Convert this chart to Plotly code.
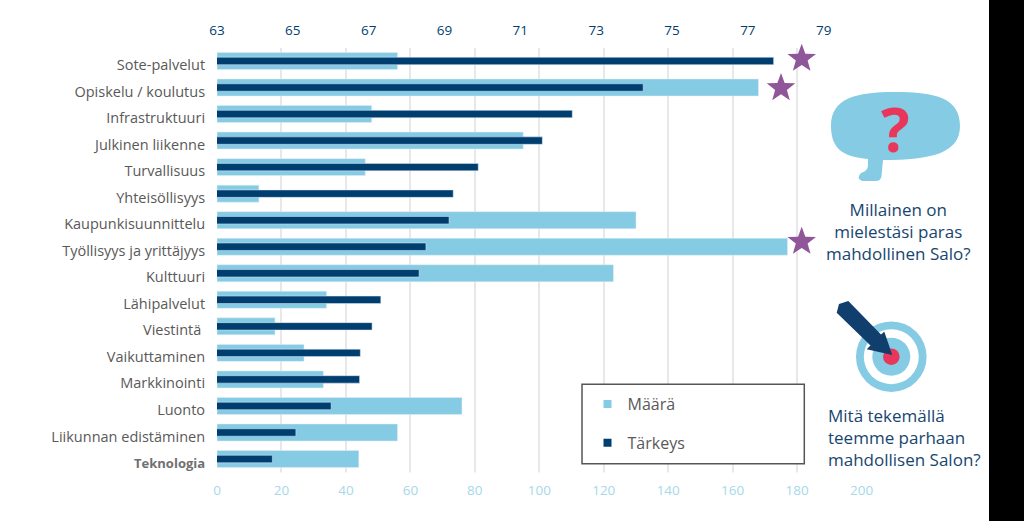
import math
import plotly.graph_objects as go

categories = ["Sote-palvelut", "Opiskelu / koulutus", "Infrastruktuuri", "Julkinen liikenne",
              "Turvallisuus", "Yhteisöllisyys", "Kaupunkisuunnittelu", "Työllisyys ja yrittäjyys",
              "Kulttuuri", "Lähipalvelut", "Viestintä ", "Vaikuttaminen", "Markkinointi",
              "Luonto", "Liikunnan edistäminen", "Teknologia"]
category_labels = categories[:-1] + ['<span style="font-size:13px;color:#707070"><b>Teknologia</b></span>']
maara = [56, 168, 48, 95, 46, 13, 130, 177, 123, 34, 18, 27, 33, 76, 56, 44]
tarkeys = [77.68, 74.24, 72.37, 71.58, 69.89, 69.23, 69.12, 68.51, 68.33,
           67.32, 67.09, 66.78, 66.76, 66.01, 65.08, 64.46]
maara_ticks = [0, 20, 40, 60, 80, 100, 120, 140, 160, 180, 200]
tarkeys_ticks = [63, 65, 67, 69, 71, 73, 75, 77, 79]

W, H = 1024, 521
LIGHT, DARK, NAVY, PINK, PURPLE = "#85cbe3", "#003e70", "#17466f", "#e8375a", "#90569a"
ARROW = "#113f6d"
FONT = "Open Sans"

def px(x):
    return x / W
def py(y):
    return 1 - y / H
def poly(points):
    return "M" + " L".join(f"{px(x):.5f},{py(y):.5f}" for x, y in points) + " Z"
def circle(cx, cy, r, color):
    return dict(type="circle", xref="paper", yref="paper", x0=px(cx - r), x1=px(cx + r),
                y0=py(cy + r), y1=py(cy - r), fillcolor=color, line_width=0, layer="above")
def white(x0, y0, x1, y1):
    return dict(type="rect", xref="paper", yref="paper", x0=px(x0), x1=px(x1), y0=py(y1), y1=py(y0),
                fillcolor="white", line_width=0, layer="above")

fig = go.Figure()
# Legend keys sit on the label axis (y), which is 4 px lower than the bar axis (y2), as in the reference.
for name, color in (("Määrä", LIGHT), ("Tärkeys", DARK)):
    fig.add_scatter(x=[None], y=[None], mode="markers", name=name, legendgroup=name,
                    marker=dict(symbol="square", size=8, color=color))
fig.add_bar(y=categories, x=maara, name="Määrä", orientation="h", width=0.64, yaxis="y2",
            marker_color=LIGHT, legendgroup="Määrä", showlegend=False)
fig.add_bar(y=categories, x=tarkeys, name="Tärkeys", orientation="h", width=0.28, yaxis="y2",
            marker_color=DARK, xaxis="x2", legendgroup="Tärkeys", showlegend=False)

def star(cx, cy):
    pts = []
    for i in range(10):
        r = 15 if i % 2 == 0 else 6.2
        a = math.pi / 5 * i - math.pi / 2
        pts.append((cx + r * math.cos(a), cy + r * math.sin(a) + 1))
    return dict(type="path", xref="paper", yref="paper", path=poly(pts), fillcolor=PURPLE,
                line_width=0, layer="above")

bubble = (f"M{px(831):.5f},{py(126):.5f} "
          f"C{px(831):.5f},{py(98):.5f} {px(856):.5f},{py(92):.5f} {px(895):.5f},{py(92):.5f} "
          f"C{px(936):.5f},{py(92):.5f} {px(960):.5f},{py(98):.5f} {px(960):.5f},{py(126):.5f} "
          f"C{px(960):.5f},{py(153):.5f} {px(932):.5f},{py(160):.5f} {px(883):.5f},{py(160):.5f} "
          f"L{px(881.5):.5f},{py(176):.5f} Q{px(881):.5f},{py(181):.5f} {px(876):.5f},{py(181):.5f} "
          f"L{px(862):.5f},{py(181):.5f} Q{px(856):.5f},{py(178):.5f} {px(861):.5f},{py(173):.5f} "
          f"Q{px(868):.5f},{py(171):.5f} {px(868):.5f},{py(165):.5f} L{px(868):.5f},{py(159):.5f} "
          f"C{px(846):.5f},{py(157):.5f} {px(831):.5f},{py(151):.5f} {px(831):.5f},{py(126):.5f} Z")
arrow = [(836.7, 312.7), (839, 304), (848.3, 301), (881, 334.5), (884.3, 331.7),
         (892.3, 355), (866.7, 349.3), (870.5, 345.5)]

shapes = [
    white(212, 472.5, 870, 478),
    white(812, 192, 985, 268),
    white(815, 402, 985, 466),
    dict(type="path", xref="paper", yref="paper", path=bubble, fillcolor=LIGHT, line_width=0, layer="above"),
    circle(891.3, 356.7, 35.3, LIGHT),
    circle(891.3, 356.7, 27.5, "white"),
    circle(891.3, 356.7, 19, LIGHT),
    circle(891.3, 356.7, 8.3, PINK),
    dict(type="path", xref="paper", yref="paper", path=poly(arrow), fillcolor=ARROW, line_width=0, layer="above"),
    star(801.7, 57.7), star(781, 87), star(801.7, 240.7),
    dict(type="rect", xref="paper", yref="paper", x0=px(582), x1=px(804.3), y0=py(463.7), y1=py(384.3),
         fillcolor="white", line=dict(color="#555555", width=1.5), layer="above"),
    dict(type="rect", xref="paper", yref="paper", x0=px(989), x1=1, y0=0, y1=1,
         fillcolor="black", line_width=0, layer="above"),
]

def text(x, y, s, size=17, color=NAVY, align="center", anchor="center", family=FONT):
    return dict(xref="paper", yref="paper", x=px(x), y=py(y), text=s, showarrow=False, align=align,
                xanchor=anchor, yanchor="middle", font=dict(family=family, size=size, color=color))

annotations = [
    text(895, 129, "<b>?</b>", size=60, color=PINK, family=FONT),
    text(898, 231, "Millainen on<br>mielestäsi paras<br>mahdollinen Salo?"),
    text(825.5, 437, "Mitä tekemällä<br>teemme parhaan<br>mahdollisen Salon?", align="left", anchor="left"),
]

fig.update_layout(
    width=W, height=H, margin=dict(l=0, r=0, t=0, b=0, autoexpand=False), autosize=False,
    paper_bgcolor="white", plot_bgcolor="rgba(0,0,0,0)", barmode="overlay",
    font=dict(family=FONT, size=14, color="#595959"),
    xaxis=dict(domain=[px(217), px(861.6)], anchor="y2", range=[0, 200], tickvals=maara_ticks, showgrid=True,
               gridcolor="#e8e8e8", gridwidth=1.5, zeroline=False, showline=False, ticks="outside",
               ticklen=5, tickcolor="rgba(0,0,0,0)", tickfont=dict(size=13.5, color="#a6d8ea", family=FONT)),
    xaxis2=dict(domain=[px(217), px(861.6)], range=[63, 80], tickvals=tarkeys_ticks, overlaying="x",
                side="top", anchor="y2", showgrid=False, zeroline=False, showline=False, ticks="outside",
                ticklen=6, tickcolor="rgba(0,0,0,0)", tickfont=dict(size=13.5, color="#003e70", family=FONT)),
    yaxis=dict(domain=[py(476.3), py(51.7)], anchor="x", autorange=False, range=[15.5, -0.5], type="category",
               categoryorder="array", categoryarray=categories, tickmode="array", tickvals=categories,
               ticktext=category_labels, showgrid=False, zeroline=False, showline=False, ticks="outside",
               ticklen=8, tickcolor="rgba(0,0,0,0)", tickfont=dict(size=14.5, color="#595959", family=FONT)),
    yaxis2=dict(domain=[py(472.3), py(47.7)], anchor="x", autorange=False, range=[15.5, -0.5], type="category",
                categoryorder="array", categoryarray=categories, showgrid=False, zeroline=False,
                showline=False, showticklabels=False, ticks=""),
    legend=dict(x=px(587.5), y=py(387), xanchor="left", yanchor="top", bgcolor="rgba(0,0,0,0)",
                traceorder="grouped", tracegroupgap=15, font=dict(size=16, color="#595959", family=FONT)),
    shapes=shapes, annotations=annotations, hovermode=False,
)
fig.write_html("out.html", config=dict(displayModeBar=False),
               post_script="document.body.style.margin='0';document.documentElement.style.overflow='hidden';")
